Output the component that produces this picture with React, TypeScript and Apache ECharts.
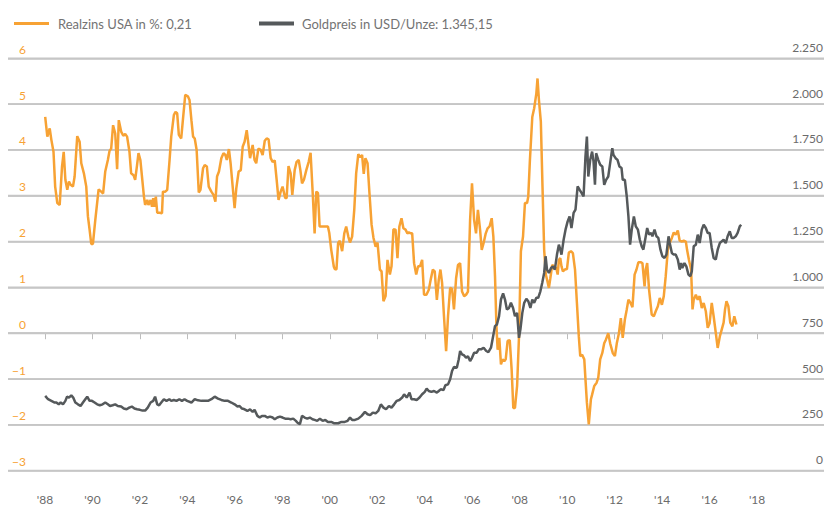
import React, { useEffect, useRef } from "react";
import * as echarts from "echarts";

const rateName = "Realzins USA in %: 0,21";
const goldName = "Goldpreis in USD/Unze: 1.345,15";

const xTickYears = [1988, 1990, 1992, 1994, 1996, 1998, 2000, 2002, 2004, 2006, 2008, 2010, 2012, 2014, 2016, 2018];
const rateTicks = [-3, -2, -1, 0, 1, 2, 3, 4, 5, 6];

const rateYears = [
  1988.01, 1988.10, 1988.20, 1988.27, 1988.36, 1988.43, 1988.52, 1988.62, 1988.72, 1988.79, 1988.86, 1988.94,
  1989.01, 1989.08, 1989.18, 1989.25, 1989.36, 1989.46, 1989.53, 1989.64, 1989.74, 1989.81, 1989.88, 1989.95,
  1990.02, 1990.12, 1990.26, 1990.37, 1990.45, 1990.54, 1990.65, 1990.72, 1990.79, 1990.87, 1990.96,
  1991.04, 1991.11, 1991.21, 1991.30, 1991.38, 1991.46, 1991.56, 1991.63, 1991.73, 1991.80, 1991.88, 1991.94,
  1992.02, 1992.10, 1992.17, 1992.22, 1992.31, 1992.36, 1992.45, 1992.51, 1992.56, 1992.62, 1992.67, 1992.73, 1992.83, 1992.93, 1992.97,
  1993.07, 1993.15, 1993.25, 1993.32, 1993.43, 1993.50, 1993.57, 1993.64, 1993.74, 1993.81, 1993.91,
  1994.02, 1994.09, 1994.17, 1994.24, 1994.31, 1994.39, 1994.48, 1994.55, 1994.66, 1994.73, 1994.82, 1994.90,
  1995.01, 1995.10, 1995.18, 1995.25, 1995.33, 1995.43, 1995.52, 1995.60, 1995.66, 1995.75, 1995.82, 1995.92, 1995.99,
  1996.06, 1996.16, 1996.25, 1996.33, 1996.41, 1996.50, 1996.55, 1996.64, 1996.75, 1996.83, 1996.90, 1996.99,
  1997.09, 1997.17, 1997.26, 1997.34, 1997.42, 1997.51, 1997.59, 1997.68, 1997.76, 1997.84, 1997.93,
  1998.01, 1998.12, 1998.18, 1998.26, 1998.35, 1998.42, 1998.52, 1998.60, 1998.69, 1998.76, 1998.83, 1998.91,
  1999.01, 1999.11, 1999.19, 1999.29, 1999.36, 1999.43, 1999.50, 1999.57, 1999.67, 1999.78, 1999.92, 1999.98,
  2000.06, 2000.17, 2000.21, 2000.28, 2000.35, 2000.42, 2000.52, 2000.61, 2000.69, 2000.78, 2000.85, 2000.94,
  2001.03, 2001.11, 2001.20, 2001.28, 2001.36, 2001.43, 2001.50, 2001.59, 2001.67, 2001.76, 2001.84, 2001.93,
  2002.01, 2002.11, 2002.18, 2002.26, 2002.35, 2002.43, 2002.53, 2002.60, 2002.68, 2002.77, 2002.85, 2002.93,
  2003.02, 2003.10, 2003.19, 2003.27, 2003.33, 2003.41, 2003.47, 2003.55, 2003.64, 2003.72, 2003.80, 2003.89, 2003.97,
  2004.07, 2004.17, 2004.25, 2004.34, 2004.42, 2004.51, 2004.59, 2004.66, 2004.73, 2004.81, 2004.90, 2004.98,
  2005.07, 2005.15, 2005.23, 2005.32, 2005.40, 2005.49, 2005.57, 2005.66, 2005.74, 2005.82, 2005.91, 2005.99,
  2006.08, 2006.16, 2006.24, 2006.33, 2006.40, 2006.48, 2006.57, 2006.65, 2006.73, 2006.82, 2006.89, 2006.96,
  2007.02, 2007.07, 2007.14, 2007.21, 2007.28, 2007.35, 2007.41, 2007.49, 2007.58, 2007.66, 2007.73, 2007.80, 2007.89, 2007.97,
  2008.05, 2008.14, 2008.22, 2008.31, 2008.36, 2008.43, 2008.53, 2008.61, 2008.70, 2008.75, 2008.81, 2008.89, 2008.96,
  2009.03, 2009.10, 2009.17, 2009.23, 2009.29, 2009.37, 2009.46, 2009.54, 2009.60, 2009.65, 2009.71, 2009.76, 2009.82, 2009.90, 2009.99,
  2010.07, 2010.16, 2010.24, 2010.33, 2010.41, 2010.49, 2010.55, 2010.63, 2010.72, 2010.77, 2010.83, 2010.91,
  2011.00, 2011.05, 2011.14, 2011.24, 2011.31, 2011.39, 2011.48, 2011.56, 2011.63, 2011.73, 2011.81, 2011.92,
  2012.01, 2012.09, 2012.18, 2012.26, 2012.34, 2012.43, 2012.51, 2012.58, 2012.67, 2012.75, 2012.84, 2012.92,
  2013.00, 2013.09, 2013.17, 2013.26, 2013.31, 2013.37, 2013.45, 2013.56, 2013.65, 2013.73, 2013.82, 2013.90, 2013.99,
  2014.07, 2014.15, 2014.24, 2014.32, 2014.41, 2014.49, 2014.57, 2014.66, 2014.74, 2014.83, 2014.91,
  2015.00, 2015.05, 2015.13, 2015.22, 2015.28, 2015.33, 2015.42, 2015.50, 2015.58, 2015.67, 2015.75, 2015.84, 2015.92,
  2016.00, 2016.09, 2016.17, 2016.26, 2016.34, 2016.43, 2016.51, 2016.59, 2016.65, 2016.71, 2016.79, 2016.87, 2016.96,
  2017.04, 2017.13,
];

const rateValues = [
  4.72, 4.29, 4.47, 4.22, 3.96, 3.20, 2.84, 2.80, 3.64, 3.96, 3.35, 3.13,
  3.31, 3.24, 3.20, 3.42, 4.30, 4.18, 3.71, 3.49, 3.20, 2.55, 2.26, 1.95,
  1.95, 2.47, 3.14, 3.09, 3.05, 3.53, 3.78, 3.98, 4.03, 4.54, 4.36,
  3.58, 4.65, 4.40, 4.31, 4.35, 4.29, 3.96, 3.49, 3.45, 3.35, 3.67, 3.93,
  3.78, 3.35, 2.98, 2.80, 2.91, 2.80, 2.91, 2.76, 2.95, 2.76, 2.98, 2.63, 2.63, 2.62, 3.09,
  3.09, 3.13, 3.78, 4.29, 4.76, 4.83, 4.80, 4.33, 4.25, 4.65, 5.20,
  5.17, 5.09, 4.65, 4.29, 4.25, 4.00, 3.07, 3.13, 3.60, 3.67, 3.64, 3.20,
  3.09, 3.02, 2.87, 3.42, 3.53, 3.82, 3.93, 3.89, 3.78, 4.02, 3.71, 3.13, 2.73,
  3.16, 3.53, 3.56, 4.07, 4.18, 4.43, 4.22, 3.82, 4.11, 3.78, 3.71, 4.03,
  4.00, 3.89, 4.20, 4.25, 4.23, 3.82, 3.74, 3.77, 3.35, 2.91, 3.09,
  3.20, 2.95, 2.95, 3.65, 3.49, 3.02, 3.56, 3.74, 3.78, 3.56, 3.27, 3.35,
  3.56, 3.74, 3.94, 2.95, 2.18, 3.09, 3.06, 2.33, 2.33, 2.33, 2.33, 2.18,
  1.82, 1.45, 1.40, 1.39, 1.97, 2.02, 1.79, 2.18, 2.33, 2.11, 1.98, 2.11,
  2.69, 3.49, 3.91, 3.84, 3.89, 3.48, 3.82, 3.71, 3.06, 2.37, 2.08, 1.89,
  1.98, 1.39, 1.35, 0.70, 0.81, 1.60, 1.28, 1.46, 2.27, 2.26, 1.64, 2.33,
  2.51, 2.29, 2.26, 2.18, 2.20, 2.18, 2.18, 1.53, 1.28, 1.46, 1.46, 1.60, 0.84,
  0.84, 0.95, 1.17, 1.39, 1.35, 0.73, 1.17, 1.39, 1.10, 0.37, -0.39, 0.37,
  0.99, 0.97, 0.52, 1.20, 1.49, 1.53, 0.91, 0.81, 0.84, 0.91, 2.47, 3.27,
  2.47, 2.18, 2.69, 2.26, 1.82, 1.97, 2.18, 2.29, 2.33, 2.51, 2.11, 1.24,
  0.15, -0.36, -0.10, -0.68, -0.57, -0.61, -0.57, -0.17, -0.15, -0.79, -1.63, -1.63, -1.15, -0.07,
  1.79, 2.11, 2.84, 2.84, 2.98, 3.78, 4.72, 4.91, 5.23, 5.56, 5.09, 4.62, 3.20,
  1.82, 1.28, 1.13, 0.99, 1.20, 1.49, 1.46, 1.42, 1.28, 1.60, 1.64, 1.46, 1.35, 1.39, 1.40,
  1.76, 1.79, 1.75, 1.39, 0.66, -0.07, -0.50, -0.47, -0.57, -1.00, -1.51, -1.99,
  -1.44, -1.34, -1.15, -1.08, -0.97, -0.57, -0.43, -0.22, -0.14, 0.00, -0.22, -0.43,
  -0.50, -0.22, 0.00, 0.33, -0.10, 0.30, 0.52, 0.73, 0.66, 0.57, 1.28, 1.39,
  1.55, 1.55, 1.53, 1.02, 1.39, 1.53, 0.95, 0.41, 0.37, 0.48, 0.59, 0.77, 0.62,
  0.81, 1.24, 1.82, 1.97, 2.08, 2.20, 2.15, 2.24, 2.02, 2.00, 2.02,
  2.00, 1.82, 1.60, 1.39, 0.52, 0.73, 0.84, 0.73, 0.81, 0.55, 0.66, 0.48, 0.12,
  0.22, 0.66, 0.37, 0.01, -0.32, -0.07, 0.08, 0.23, 0.52, 0.70, 0.59, 0.23, 0.15,
  0.37, 0.19,
];

const goldYears = [
  1988.01, 1988.13, 1988.27, 1988.41, 1988.48, 1988.58, 1988.66, 1988.76, 1988.86, 1988.93,
  1989.01, 1989.11, 1989.19, 1989.28, 1989.39, 1989.50, 1989.60, 1989.70, 1989.78, 1989.88, 1989.98,
  1990.09, 1990.20, 1990.31, 1990.43, 1990.54, 1990.65, 1990.74, 1990.85, 1990.96,
  1991.07, 1991.21, 1991.32, 1991.44, 1991.55, 1991.66, 1991.77, 1991.88,
  1992.00, 1992.11, 1992.22, 1992.33, 1992.45, 1992.56, 1992.64, 1992.73, 1992.81, 1992.90,
  1993.01, 1993.12, 1993.24, 1993.32, 1993.43, 1993.54, 1993.66, 1993.77, 1993.88, 1993.99,
  1994.17, 1994.31, 1994.45, 1994.59, 1994.73, 1994.87,
  1995.01, 1995.15, 1995.29, 1995.43, 1995.57, 1995.71, 1995.85, 1995.99,
  1996.11, 1996.20, 1996.30, 1996.41, 1996.53, 1996.64, 1996.75, 1996.83, 1996.95,
  1997.05, 1997.14, 1997.26, 1997.37, 1997.48, 1997.59, 1997.68, 1997.79, 1997.90,
  1998.01, 1998.12, 1998.24, 1998.35, 1998.46, 1998.57, 1998.66, 1998.74, 1998.83, 1998.94,
  1999.05, 1999.16, 1999.27, 1999.36, 1999.47, 1999.58, 1999.70, 1999.81, 1999.92,
  2000.06, 2000.17, 2000.35, 2000.49, 2000.63, 2000.75, 2000.85, 2000.94,
  2001.06, 2001.20, 2001.34, 2001.48, 2001.59, 2001.70, 2001.81, 2001.93,
  2002.04, 2002.15, 2002.26, 2002.37, 2002.49, 2002.60, 2002.71, 2002.82, 2002.93,
  2003.05, 2003.13, 2003.24, 2003.36, 2003.44, 2003.55, 2003.66, 2003.78, 2003.89,
  2004.00, 2004.08, 2004.17, 2004.28, 2004.39, 2004.51, 2004.59, 2004.67, 2004.79, 2004.87, 2004.98,
  2005.07, 2005.15, 2005.23, 2005.35, 2005.43, 2005.49, 2005.57, 2005.66, 2005.74, 2005.82, 2005.91, 2005.99,
  2006.08, 2006.19, 2006.27, 2006.37, 2006.48, 2006.59, 2006.68, 2006.79, 2006.88, 2006.96,
  2007.04, 2007.13, 2007.21, 2007.30, 2007.38, 2007.46, 2007.55, 2007.63, 2007.72, 2007.80, 2007.89, 2007.97,
  2008.03, 2008.11, 2008.19, 2008.28, 2008.36, 2008.45, 2008.53, 2008.61, 2008.70, 2008.78, 2008.87, 2008.95,
  2009.03, 2009.09, 2009.15, 2009.23, 2009.32, 2009.40, 2009.48, 2009.57, 2009.65, 2009.71, 2009.76, 2009.85, 2009.93,
  2010.02, 2010.10, 2010.18, 2010.27, 2010.35, 2010.44, 2010.52, 2010.61, 2010.69, 2010.77, 2010.83, 2010.89, 2010.97,
  2011.05, 2011.11, 2011.17, 2011.22, 2011.31, 2011.39, 2011.48, 2011.56, 2011.64, 2011.73, 2011.81, 2011.90, 2011.95,
  2012.04, 2012.12, 2012.20, 2012.29, 2012.34, 2012.43, 2012.51, 2012.58, 2012.65, 2012.72, 2012.81, 2012.89, 2012.98,
  2013.06, 2013.14, 2013.21, 2013.31, 2013.37, 2013.45, 2013.54, 2013.59, 2013.68, 2013.76, 2013.84, 2013.93,
  2014.01, 2014.10, 2014.18, 2014.27, 2014.32, 2014.41, 2014.49, 2014.57, 2014.66, 2014.74, 2014.80, 2014.85, 2014.94,
  2015.02, 2015.11, 2015.19, 2015.25, 2015.33, 2015.42, 2015.50, 2015.58, 2015.67, 2015.75, 2015.84, 2015.92,
  2016.00, 2016.09, 2016.17, 2016.26, 2016.34, 2016.43, 2016.51, 2016.59, 2016.68, 2016.76, 2016.85, 2016.93,
  2017.01, 2017.10, 2017.18, 2017.27, 2017.33,
];

const goldValues = [
  408, 390, 381, 372, 372, 362, 372, 362, 381, 404,
  399, 411, 399, 372, 362, 353, 372, 390, 404, 381, 381,
  372, 362, 357, 362, 372, 362, 353, 357, 362,
  353, 350, 339, 335, 344, 350, 339, 335,
  332, 328, 328, 344, 372, 381, 404, 362, 357, 372,
  390, 381, 390, 381, 386, 381, 390, 381, 390, 381,
  372, 390, 384, 381, 381, 381,
  390, 404, 393, 386, 381, 381, 372, 362,
  350, 353, 339, 335, 326, 335, 321, 332, 299,
  290, 299, 299, 290, 295, 290, 281, 290, 295,
  290, 284, 284, 281, 284, 272, 259, 254, 299, 290,
  284, 290, 281, 277, 272, 284, 272, 277, 266,
  266, 259, 259, 266, 266, 272, 290, 277,
  277, 284, 299, 321, 308, 303, 317, 313,
  326, 362, 344, 335, 353, 344, 362, 381, 386,
  399, 417, 399, 426, 390, 390, 386, 399, 417,
  430, 448, 435, 430, 435, 426, 435, 444, 440, 466, 471,
  499, 544, 566, 562, 607, 653, 635, 629, 616, 625, 598, 616,
  644, 644, 662, 662, 671, 653, 647, 671, 734, 789,
  798, 843, 934, 967, 934, 879, 888, 916, 888, 843, 861, 725,
  771, 861, 916, 938, 925, 888, 934, 916, 943, 943, 979, 1025,
  1079, 1170, 1097, 1079, 1106, 1115, 1097, 1179, 1233, 1206, 1179, 1260, 1315,
  1360, 1387, 1324, 1406, 1424, 1551, 1533, 1514, 1496, 1714, 1823, 1605, 1696,
  1741, 1687, 1560, 1732, 1696, 1669, 1660, 1560, 1587, 1605, 1678, 1759, 1723,
  1705, 1696, 1660, 1651, 1587, 1587, 1496, 1387, 1233, 1315, 1387, 1333, 1315,
  1260, 1224, 1206, 1279, 1324, 1288, 1297, 1279, 1315, 1279, 1270, 1206,
  1170, 1161, 1179, 1279, 1242, 1188, 1179, 1179, 1152, 1097, 1133, 1106, 1133,
  1115, 1070, 1061, 1088, 1224, 1233, 1288, 1242, 1315, 1342, 1324, 1297,
  1297, 1215, 1161, 1152, 1206, 1242, 1251, 1260, 1242, 1279, 1306, 1270,
  1270, 1279, 1297, 1333, 1342,
];

const ORANGE = "#F7A234";
const GRAY = "#55595b";
const GRID_GRAY = "#c6c6c6";
const FONT = "Lato, 'Open Sans', sans-serif";
const X_MIN = 1986.443;
const X_MAX = 2020.819;

function fmtThousands(v: number): string {
  return String(v).replace(/\B(?=(\d{3})+(?!\d))/g, ".");
}

export default function App() {
  const ref = useRef<HTMLDivElement>(null);

  useEffect(() => {
    if (!ref.current) return;
    const chart = echarts.init(ref.current, undefined, { renderer: "svg" });
    const rateData = rateYears.map((y, i) => [y, rateValues[i]]);
    const goldData = goldYears.map((y, i) => [y, goldValues[i]]);

    // gridlines as two-point line series at each left-axis tick value, above other components but below the data
    const gridSeries = rateTicks.map((v) => ({
      name: "gridline " + v,
      type: "line",
      yAxisIndex: 0,
      data: [
        [X_MIN, v],
        [X_MAX, v],
      ],
      showSymbol: false,
      symbol: "none",
      silent: true,
      clip: false,
      z: 10,
      lineStyle: { color: GRID_GRAY, width: 1.8 },
      emphasis: { disabled: true },
    }));

    chart.setOption({
      animation: false,
      textStyle: { fontFamily: FONT },
      legend: [
        {
          data: [rateName],
          left: 9,
          top: 12,
          icon: "rect",
          itemWidth: 35,
          itemHeight: 3,
          textStyle: { color: "#737373", fontSize: 13, fontFamily: FONT, padding: [0, 0, 0, 4] },
        },
        {
          data: [goldName],
          left: 254,
          top: 12,
          icon: "rect",
          itemWidth: 35,
          itemHeight: 4,
          textStyle: { color: "#737373", fontSize: 13, fontFamily: FONT, padding: [0, 0, 0, 3] },
        },
      ],
      grid: { left: 8, right: 1, top: 58.3, bottom: 35.3, containLabel: false },
      xAxis: {
        type: "value",
        min: X_MIN,
        max: X_MAX,
        offset: 12,
        splitLine: { show: false },
        axisLine: { show: false },
        axisTick: {
          show: true,
          length: 6,
          customValues: xTickYears,
          lineStyle: { color: "#bdbdbd", width: 1 },
        },
        axisLabel: {
          customValues: xTickYears,
          margin: 11,
          color: "#6b6b6b",
          fontSize: 12,
          fontFamily: FONT,
          formatter: (v: number) => "'" + String(v).slice(2),
        },
      },
      yAxis: [
        {
          type: "value",
          position: "left",
          min: -3,
          max: 6,
          interval: 1,
          axisLine: { show: false },
          axisTick: { show: false },
          splitLine: { show: true, lineStyle: { color: GRID_GRAY, width: 1.5 } },
          axisLabel: {
            inside: true,
            margin: 18,
            align: "right",
            verticalAlign: "bottom",
            padding: [0, 0, 3, 0],
            color: ORANGE,
            fontSize: 12,
            fontFamily: FONT,
            formatter: (v: number) => (v < 0 ? "\u2212" + Math.abs(v) : String(v)),
          },
        },
        {
          type: "value",
          position: "right",
          min: 0,
          max: 2250,
          interval: 250,
          axisLine: { show: false },
          axisTick: { show: false },
          splitLine: { show: false },
          axisLabel: {
            inside: true,
            margin: 1,
            align: "right",
            verticalAlign: "bottom",
            padding: [0, 0, 5, 0],
            color: "#6b6b6b",
            fontSize: 12,
            fontFamily: FONT,
            formatter: (v: number) => fmtThousands(v),
          },
        },
      ],
      series: [
        ...gridSeries,
        {
          name: rateName,
          type: "line",
          yAxisIndex: 0,
          data: rateData,
          showSymbol: false,
          symbol: "none",
          color: ORANGE,
          lineStyle: { color: ORANGE, width: 2.5 },
          z: 11,
        },
        {
          name: goldName,
          type: "line",
          yAxisIndex: 1,
          data: goldData,
          showSymbol: false,
          symbol: "none",
          color: GRAY,
          lineStyle: { color: GRAY, width: 2.5 },
          z: 12,
        },
      ],
    });

    return () => chart.dispose();
  }, []);

  return (
    <div
      ref={ref}
      style={{ position: "fixed", left: 0, top: 0, width: 826, height: 506, background: "#fff" }}
    />
  );
}
